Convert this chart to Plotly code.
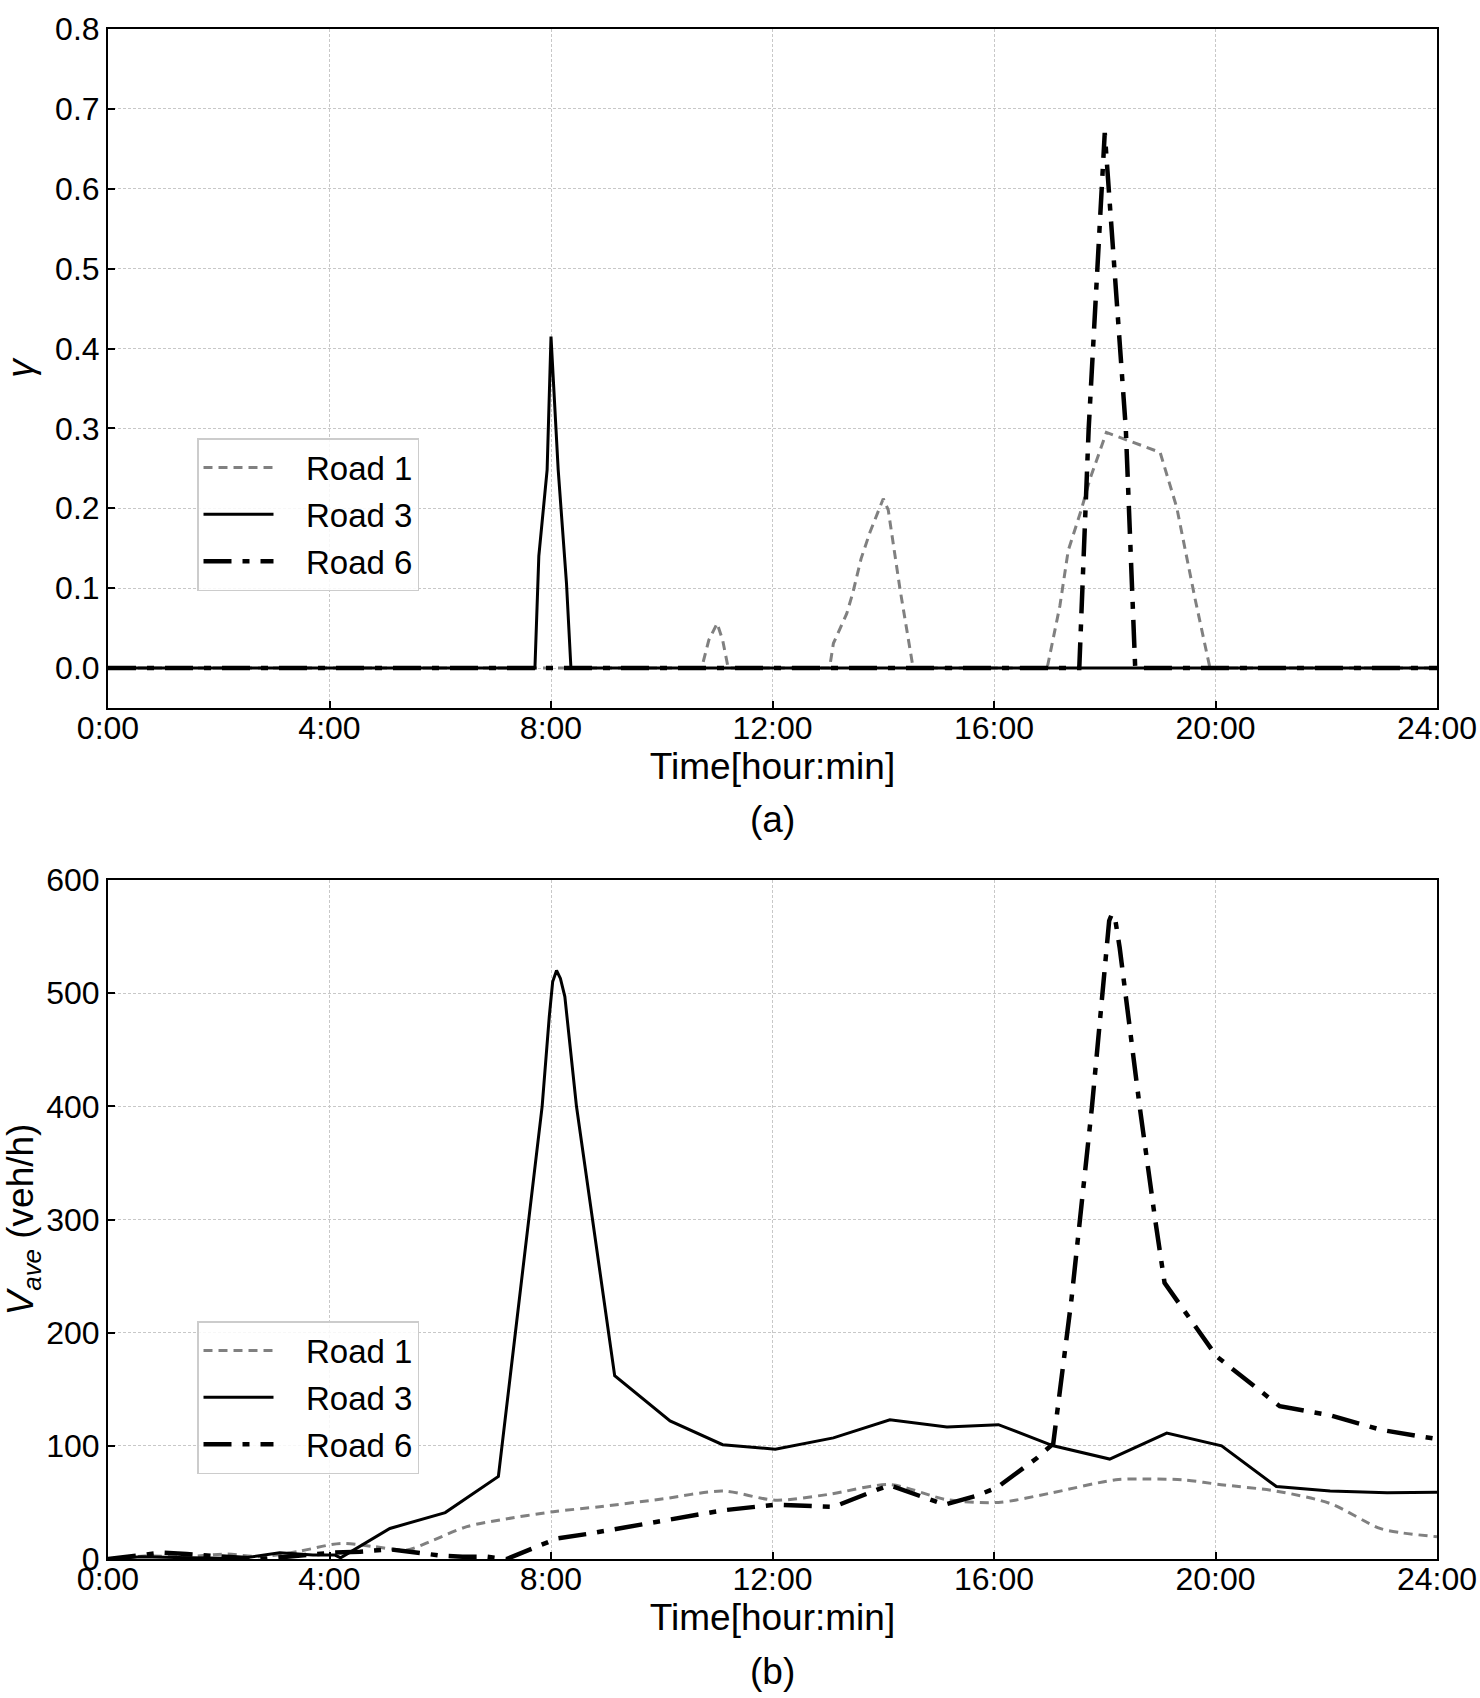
import plotly.graph_objects as go

# ---------------- data: panel (a) gamma ----------------
g_road1_x = [0, 10.72, 10.85, 11.0, 11.1, 11.2, 13.03, 13.1, 13.34, 13.45, 13.6, 13.76, 14.0, 14.09,
             14.3, 14.54, 16.96, 17.19, 17.34, 17.58, 17.73, 18.03, 19.0, 19.3, 19.63, 19.9, 24]
g_road1_y = [0, 0, 0.035, 0.056, 0.035, 0, 0, 0.031, 0.068, 0.094, 0.137, 0.17, 0.212, 0.198,
             0.1, 0, 0, 0.078, 0.147, 0.199, 0.236, 0.295, 0.27, 0.201, 0.087, 0, 0]
g_road3_x = [0, 7.71, 7.78, 7.93, 8.0, 8.13, 8.28, 8.36, 24]
g_road3_y = [0, 0, 0.14, 0.248, 0.415, 0.248, 0.106, 0, 0]
g_road6_x = [0, 17.54, 17.71, 18.0, 18.38, 18.55, 24]
g_road6_y = [0, 0, 0.3, 0.67, 0.3, 0, 0]

# ---------------- data: panel (b) V_ave ----------------
v_road1_x = [0, 0.66, 1.4, 2.15, 2.75, 3.47, 4.2, 4.8, 5.4, 5.88, 6.48, 7.08, 8.04, 8.88, 10.0,
             11.1, 12.05, 13.0, 14.12, 15.15, 16.08, 17.0, 18.2, 18.8, 19.4, 20.1, 21.1, 22.07,
             22.97, 23.38, 24]
v_road1_y = [0, 2.6, 2, 4.4, 2, 7, 13.8, 11, 8, 16.8, 28.6, 34.5, 41.8, 46.2, 53,
             60, 52, 57, 65.7, 52.4, 50, 58, 70, 70.7, 70, 65.7, 60, 49,
             27, 23, 19.7]
v_road3_x = [0, 0.6, 1.5, 2.4, 3.1, 3.7, 4.1, 4.2, 5.09, 6.09, 7.05, 7.6, 7.84, 7.97, 8.03, 8.1,
             8.17, 8.25, 8.33, 8.46, 9.15, 10.15, 11.1, 12.05, 13.1, 14.12, 15.15, 16.08, 17.07,
             18.09, 19.12, 20.11, 21.1, 22.07, 23.1, 24]
v_road3_y = [0, 2, 1, 0.5, 5.5, 3.5, 3.5, 1, 27, 41, 73, 300, 400, 480, 510, 520,
             513, 497, 460, 400, 162, 122, 101, 97, 107, 123, 116.6, 118.7, 100,
             88.3, 111.3, 100, 64, 60, 58.5, 59]
v_road6_x = [0, 0.97, 1.42, 1.9, 2.38, 2.75, 3.23, 4.07, 4.55, 5.09, 5.45, 6.0, 6.4, 6.84, 7.2,
             7.74, 8.1, 8.64, 9.1, 10.1, 11.1, 12.05, 13.1, 13.88, 14.12, 15.11, 15.69, 16.05,
             16.77, 17.07, 17.4, 17.77, 17.95, 18.02, 18.08, 18.13, 18.19, 18.27, 18.37, 18.63,
             18.91, 19.08, 20.02, 21.16, 22.07, 23.0, 24]
v_road6_y = [0, 5.6, 4.4, 2.6, 1, 0, 2, 5.6, 6.5, 8.5, 6.5, 3, 2, 2, 0,
             11, 18, 22, 26, 35, 43, 48, 46, 61, 65, 48, 56, 63,
             89, 102, 230, 400, 500, 540, 564, 570, 565, 540, 500, 400,
             300, 244, 179, 135, 127, 114, 106]

x_tickvals = [0, 4, 8, 12, 16, 20, 24]
x_ticktext = ["0:00", "4:00", "8:00", "12:00", "16:00", "20:00", "24:00"]
names = ["Road 1", "Road 3", "Road 6"]

FONT = "Liberation Sans, Arial, Helvetica, sans-serif"
TICK_SIZE = 32
TITLE_SIZE = 37
LEGEND_SIZE = 33
styles = [
    dict(color="#808080", width=3, dash="9px,6px"),
    dict(color="black", width=3, dash="solid"),
    dict(color="black", width=4.5, dash="28px,11px,7px,11px"),
]
PAD = "\u00a0\u00a0\u00a0"

fig = go.Figure()
top = [(g_road1_x, g_road1_y), (g_road3_x, g_road3_y), (g_road6_x, g_road6_y)]
bot = [(v_road1_x, v_road1_y), (v_road3_x, v_road3_y), (v_road6_x, v_road6_y)]
for i, (xs, ys) in enumerate(top):
    fig.add_trace(go.Scatter(x=xs, y=ys, mode="lines", name=PAD + names[i], line=styles[i],
                             xaxis="x", yaxis="y", legend="legend", legendgroup="a%d" % i))
for i, (xs, ys) in enumerate(bot):
    ln = dict(styles[i])
    if i == 0:
        ln["shape"] = "spline"
        ln["smoothing"] = 0.8
    fig.add_trace(go.Scatter(x=xs, y=ys, mode="lines", name=PAD + names[i], line=ln,
                             xaxis="x2", yaxis="y2", legend="legend2", legendgroup="b%d" % i))

axis_common = dict(
    showline=True, linecolor="black", linewidth=2, mirror=True, automargin=False,
    ticks="inside", ticklen=7, tickwidth=1.5, tickcolor="black",
    showgrid=True, gridcolor="#c8c8c8", gridwidth=1, griddash="3px,2px",
    zeroline=False, tickfont=dict(family=FONT, size=TICK_SIZE, color="black"),
)
title_font = dict(family=FONT, size=TITLE_SIZE, color="black")

H_TOP = 1 - (708 - 29) / 1530
H_BOT = (1559 - 880) / 1530

legend_common = dict(
    xanchor="left", yanchor="top",
    bgcolor="rgba(255,255,255,0.85)", bordercolor="#cccccc", borderwidth=1.5,
    font=dict(family=FONT, size=LEGEND_SIZE, color="black"), tracegroupgap=1,
    itemwidth=70,
)

fig.update_layout(
    width=1480, height=1698,
    margin=dict(l=108, r=43, t=29, b=139),
    paper_bgcolor="white", plot_bgcolor="white",
    font=dict(family=FONT, size=TICK_SIZE, color="black"),
    xaxis=dict(axis_common, domain=[0, 1], anchor="y", range=[0, 24],
               tickvals=x_tickvals, ticktext=x_ticktext, ticklabelstandoff=-9,
               title=dict(text="Time[hour:min]", standoff=7, font=title_font)),
    yaxis=dict(axis_common, domain=[H_TOP, 1], anchor="x", range=[-0.05, 0.8],
               tickvals=[0, 0.1, 0.2, 0.3, 0.4, 0.5, 0.6, 0.7, 0.8], tickformat=".1f",
               title=dict(text="<i>γ</i>", standoff=12, font=title_font)),
    xaxis2=dict(axis_common, domain=[0, 1], anchor="y2", range=[0, 24],
                tickvals=x_tickvals, ticktext=x_ticktext, ticklabelstandoff=-9,
                title=dict(text="Time[hour:min]", standoff=7, font=title_font)),
    yaxis2=dict(axis_common, domain=[0, H_BOT], anchor="x2", range=[0, 600],
                tickvals=[0, 100, 200, 300, 400, 500, 600],
                title=dict(text="<i>V<sub>ave</sub></i> (veh/h)", standoff=6, font=title_font)),
    legend=dict(legend_common, x=(197 - 108) / 1329, y=(1559 - 438) / 1530),
    legend2=dict(legend_common, x=(197 - 108) / 1329, y=(1559 - 1321) / 1530),
    showlegend=True,
)

fig.add_annotation(text="(a)", xref="paper", yref="paper", x=0.5, y=(1559 - 820) / 1530,
                   showarrow=False, font=title_font, xanchor="center", yanchor="middle")
fig.add_annotation(text="(b)", xref="paper", yref="paper", x=0.5, y=(1559 - 1671) / 1530,
                   showarrow=False, font=title_font, xanchor="center", yanchor="middle")

fig.write_html("out.html")
